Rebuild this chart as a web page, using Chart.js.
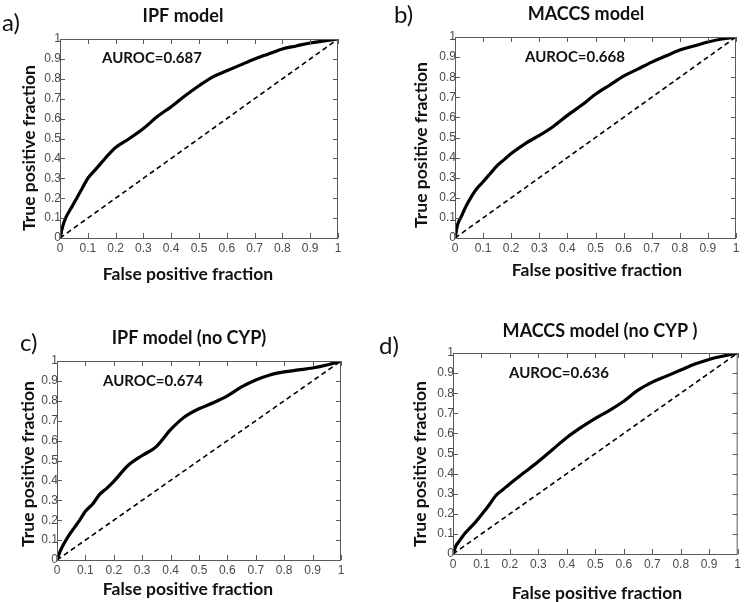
<!DOCTYPE html>
<html>
<head>
<meta charset="utf-8">
<title>ROC curves</title>
<script src="https://cdn.jsdelivr.net/npm/chart.js@4.4.1/dist/chart.umd.min.js"></script>
<style>
  html, body { margin: 0; padding: 0; background: #fff; }
  #wrap { position: relative; width: 744px; height: 602px; overflow: hidden; background: #fff; }
  .panel { position: absolute; width: 372px; height: 301px; }
  .panel canvas { display: block; }
</style>
</head>
<body>
<div id="wrap">
  <div class="panel" style="left:0;top:0"><canvas id="chartA" width="372" height="301"></canvas></div>
  <div class="panel" style="left:372px;top:0"><canvas id="chartB" width="372" height="301"></canvas></div>
  <div class="panel" style="left:0;top:301px"><canvas id="chartC" width="372" height="301"></canvas></div>
  <div class="panel" style="left:372px;top:301px"><canvas id="chartD" width="372" height="301"></canvas></div>
</div>
<script>
// ===== DATA =====

var fprPoints     = [0, 0.01, 0.02, 0.04, 0.06, 0.08, 0.1, 0.125, 0.15, 0.175, 0.2, 0.25, 0.3, 0.35, 0.4, 0.45, 0.5, 0.55, 0.6, 0.65, 0.7, 0.75, 0.8, 0.85, 0.9, 0.95, 1];
var tprIPF        = [0, 0.06, 0.10, 0.15, 0.20, 0.25, 0.30, 0.34, 0.38, 0.42, 0.455, 0.50, 0.55, 0.61, 0.66, 0.715, 0.765, 0.81, 0.84, 0.87, 0.90, 0.925, 0.95, 0.965, 0.98, 0.99, 1];
var tprMACCS      = [0, 0.07, 0.10, 0.16, 0.21, 0.25, 0.28, 0.32, 0.36, 0.39, 0.42, 0.47, 0.51, 0.555, 0.61, 0.66, 0.715, 0.76, 0.805, 0.84, 0.875, 0.905, 0.935, 0.955, 0.975, 0.99, 1];
var tprIPFnoCYP   = [0, 0.04, 0.07, 0.12, 0.16, 0.20, 0.245, 0.28, 0.33, 0.36, 0.395, 0.475, 0.525, 0.57, 0.655, 0.72, 0.76, 0.79, 0.825, 0.87, 0.905, 0.93, 0.945, 0.955, 0.965, 0.98, 1];
var tprMACCSnoCYP = [0, 0.04, 0.06, 0.10, 0.13, 0.16, 0.195, 0.24, 0.29, 0.32, 0.35, 0.405, 0.46, 0.52, 0.58, 0.63, 0.675, 0.715, 0.76, 0.815, 0.855, 0.885, 0.915, 0.945, 0.968, 0.985, 1];
var chanceLine    = [0, 1];

var axisTicks     = [0, 0.1, 0.2, 0.3, 0.4, 0.5, 0.6, 0.7, 0.8, 0.9, 1];

var panelLetters  = ['a)', 'b)', 'c)', 'd)'];
var panelTitles   = ['IPF model', 'MACCS model', 'IPF model (no CYP)', 'MACCS model (no CYP )'];
var aurocValues   = ['0.687', '0.668', '0.674', '0.636'];
var xAxisTitle    = 'False positive fraction';
var yAxisTitle    = 'True positive fraction';

// ===== LAYOUT (canvas coords of each panel) =====
// plot: [left, right, top, bottom]
var panelLayout = [
  { id: 'chartA', tpr: tprIPF,        plot: [60, 338, 39, 238], letter: [2, 31],  title: [183, 22], auroc: [102, 63], yTitle: [29, 148], xTitle: [188, 274] },
  { id: 'chartB', tpr: tprMACCS,      plot: [83, 364, 37, 238], letter: [22, 23], title: [214, 20], auroc: [153, 62], yTitle: [49, 145], xTitle: [225, 270] },
  { id: 'chartC', tpr: tprIPFnoCYP,   plot: [57, 341, 60, 259], letter: [20, 50], title: [189, 43], auroc: [103, 85], yTitle: [28, 163], xTitle: [188, 288] },
  { id: 'chartD', tpr: tprMACCSnoCYP, plot: [81, 366, 52, 253], letter: [7, 53],  title: [228, 36], auroc: [137, 77], yTitle: [48, 163], xTitle: [225, 292] }
];

var TEXT_FONT = 'Lato, "Open Sans", sans-serif';
var TICK_FONT = { family: '"Liberation Sans", Arial, sans-serif', size: 12 };
var TICK_COLOR = '#4a4a4a';
var FRAME_COLOR = '#5a5a5a';

// ===== PLUGIN: frame, inward ticks, texts =====
var rocDecor = {
  id: 'rocDecor',
  afterDraw: function(chart, args, opts) {
    var ctx = chart.ctx;
    var area = chart.chartArea;
    var xs = chart.scales.x;
    var ys = chart.scales.y;
    var L = opts.layout;
    var i = opts.index;

    ctx.save();
    // frame
    ctx.strokeStyle = FRAME_COLOR;
    ctx.lineWidth = 1;
    ctx.strokeRect(area.left + 0.5, area.top + 0.5, area.right - area.left - 1, area.bottom - area.top);

    // inward ticks on all four sides
    ctx.beginPath();
    axisTicks.forEach(function(v) {
      var px = Math.round(xs.getPixelForValue(v)) + 0.5;
      ctx.moveTo(px, area.bottom); ctx.lineTo(px, area.bottom - 5);
      ctx.moveTo(px, area.top);    ctx.lineTo(px, area.top + 5);
      var py = Math.round(ys.getPixelForValue(v)) + 0.5;
      ctx.moveTo(area.left, py);   ctx.lineTo(area.left + 5, py);
      ctx.moveTo(area.right, py);  ctx.lineTo(area.right - 5, py);
    });
    ctx.stroke();

    ctx.fillStyle = '#111';
    ctx.textBaseline = 'alphabetic';

    // panel letter
    ctx.font = '24px ' + TEXT_FONT;
    ctx.textAlign = 'left';
    ctx.fillText(panelLetters[i], L.letter[0], L.letter[1]);

    // title
    ctx.font = 'bold 18px ' + TEXT_FONT;
    ctx.textAlign = 'center';
    ctx.fillText(panelTitles[i], L.title[0], L.title[1]);

    // AUROC
    ctx.font = 'bold 15px ' + TEXT_FONT;
    ctx.textAlign = 'left';
    ctx.fillText('AUROC=' + aurocValues[i], L.auroc[0], L.auroc[1]);

    // axis titles
    ctx.font = 'bold 17.5px ' + TEXT_FONT;
    ctx.textAlign = 'center';
    ctx.textBaseline = 'middle';
    ctx.fillText(xAxisTitle, L.xTitle[0], L.xTitle[1]);
    ctx.translate(L.yTitle[0], L.yTitle[1]);
    ctx.rotate(-Math.PI / 2);
    ctx.fillText(yAxisTitle, 0, 0);
    ctx.restore();
  }
};

function toPoints(xs, ys) {
  return xs.map(function(x, k) { return { x: x, y: ys[k] }; });
}

function buildPanel(L, index) {
  var ctx = document.getElementById(L.id);
  var plot = L.plot;
  var tickOpts = {
    font: TICK_FONT,
    color: TICK_COLOR,
    autoSkip: false,
    maxRotation: 0,
    callback: function(v) { return String(+v.toFixed(1)); }
  };
  var setTicks = function(scale) {
    scale.ticks = axisTicks.map(function(v) { return { value: v }; });
  };

  return new Chart(ctx, {
    type: 'line',
    data: {
      datasets: [
        {
          label: 'ROC',
          data: toPoints(fprPoints, L.tpr),
          borderColor: '#000',
          borderWidth: 3.2,
          pointRadius: 0,
          cubicInterpolationMode: 'monotone',
          order: 1
        },
        {
          label: 'Chance',
          data: toPoints(chanceLine, chanceLine),
          borderColor: '#000',
          borderWidth: 1.6,
          borderDash: [5, 3.5],
          pointRadius: 0,
          order: 2
        }
      ]
    },
    options: {
      responsive: false,
      animation: false,
      events: [],
      layout: { padding: { left: 0, top: plot[2], right: 372 - plot[1], bottom: 0 } },
      scales: {
        x: {
          type: 'linear', min: 0, max: 1,
          afterBuildTicks: setTicks,
          afterFit: function(s) { s.height = 301 - plot[3]; },
          grid: { display: false, drawTicks: false },
          border: { display: false },
          ticks: Object.assign({ padding: 3 }, tickOpts)
        },
        y: {
          type: 'linear', min: 0, max: 1,
          afterBuildTicks: setTicks,
          afterFit: function(s) { s.width = plot[0]; },
          grid: { display: false, drawTicks: false },
          border: { display: false },
          ticks: Object.assign({ padding: -1 }, tickOpts)
        }
      },
      plugins: {
        legend: { display: false },
        tooltip: { enabled: false },
        rocDecor: { layout: L, index: index }
      }
    },
    plugins: [rocDecor]
  });
}

panelLayout.forEach(function(L, i) { buildPanel(L, i); });
</script>
</body>
</html>
